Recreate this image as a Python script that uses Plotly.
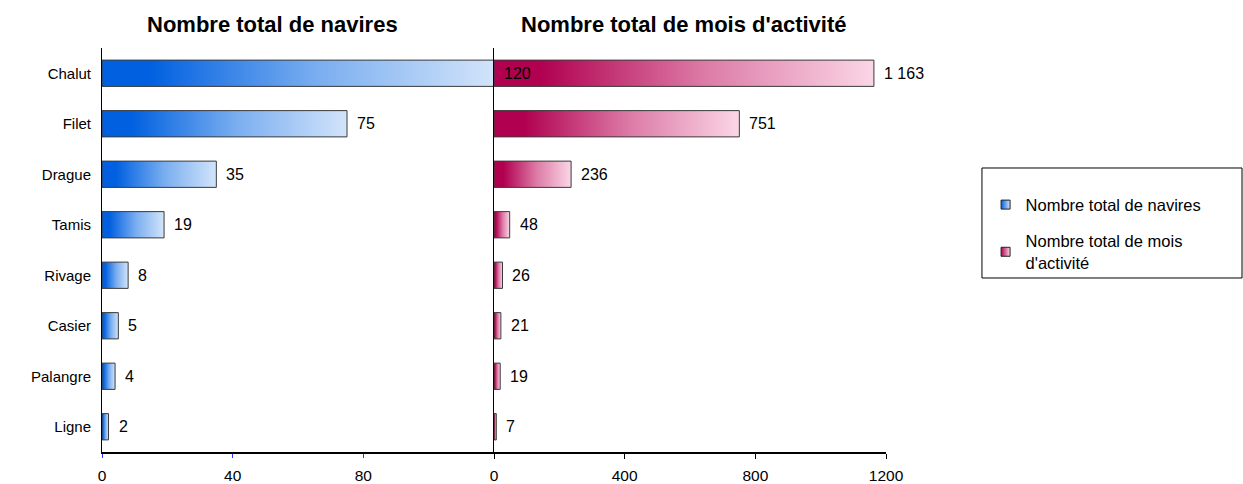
import plotly.graph_objects as go

categories = ["Chalut", "Filet", "Drague", "Tamis", "Rivage", "Casier", "Palangre", "Ligne"]
navires = [120, 75, 35, 19, 8, 5, 4, 2]
mois = [1163, 751, 236, 48, 26, 21, 19, 7]
title_navires = "Nombre total de navires"
title_mois = "Nombre total de mois d'activité"
ticks_navires = [0, 40, 80]
ticks_mois = [0, 400, 800, 1200]

BLUE_DARK, BLUE_MID, BLUE_LIGHT = "#0060E0", "#7AAEF0", "#D2E4FA"
PINK_DARK, PINK_MID, PINK_LIGHT = "#B0004F", "#DC7AA6", "#FBD6E6"
FONT = "Liberation Sans, Arial, sans-serif"
HALF = 0.26

fig = go.Figure()

def add_bars(values, xa, ya, dark, mid, light, name):
    for i, v in enumerate(values):
        fig.add_trace(go.Scatter(
            x=[0, v, v, 0, 0], y=[i - HALF, i - HALF, i + HALF, i + HALF, i - HALF],
            xaxis=xa, yaxis=ya, mode="lines", fill="toself",
            fillgradient=dict(type="horizontal",
                              colorscale=[[0, dark], [0.12, dark], [0.55, mid], [1, light]]),
            line=dict(color="#3a3a3a", width=1),
            hoverinfo="skip", showlegend=False))
    # legend entry
    fig.add_trace(go.Scatter(
        x=[None], y=[None], xaxis=xa, yaxis=ya, mode="markers", name=name,
        legendgroup=name,
        marker=dict(symbol="square", size=9, color=dark,
                    gradient=dict(type="horizontal", color=light),
                    line=dict(color="#222", width=1))))

add_bars(navires, "x", "y", BLUE_DARK, BLUE_MID, BLUE_LIGHT, title_navires)
add_bars(mois, "x2", "y2", PINK_DARK, PINK_MID, PINK_LIGHT, "Nombre total de mois<br>d'activité")

def fmt(v):
    return f"{v:,}".replace(",", " ")

annotations = []
for i, v in enumerate(navires):
    annotations.append(dict(x=v, y=i, xref="x", yref="y", text=fmt(v), showarrow=False,
                            xanchor="left", xshift=8, font=dict(size=16, color="black", family=FONT)))
for i, v in enumerate(mois):
    annotations.append(dict(x=v, y=i, xref="x2", yref="y2", text=fmt(v), showarrow=False,
                            xanchor="left", xshift=8, font=dict(size=16, color="black", family=FONT)))
annotations.append(dict(x=0.217, y=1.057, xref="paper", yref="paper", text="<b>" + title_navires + "</b>",
                        showarrow=False, xanchor="center", yanchor="middle",
                        font=dict(size=22, color="black", family=FONT)))
annotations.append(dict(x=0.742, y=1.057, xref="paper", yref="paper", text="<b>" + title_mois + "</b>",
                        showarrow=False, xanchor="center", yanchor="middle",
                        font=dict(size=22, color="black", family=FONT)))

ymin, ymax = len(categories) - 0.5, -0.5
fig.update_layout(
    width=1243, height=484,
    margin=dict(l=102, r=357, t=48, b=32, autoexpand=False),
    paper_bgcolor="white", plot_bgcolor="white",
    font=dict(family=FONT, size=16, color="black"),
    annotations=annotations,
    xaxis=dict(domain=[0, 0.5], range=[0, 120], tickvals=ticks_navires, ticks="outside",
               ticklen=4, tickcolor="#3030ff", showline=True, linecolor="black", linewidth=2,
               showgrid=False, zeroline=False, ticklabelstandoff=4, automargin=False,
               tickfont=dict(size=15.5)),
    xaxis2=dict(domain=[0.5, 1], range=[0, 1200], tickvals=ticks_mois, ticks="outside",
                ticklen=5, tickcolor="black", showline=True, linecolor="black", linewidth=2,
                showgrid=False, zeroline=False, ticklabelstandoff=3, anchor="y2", automargin=False,
                tickfont=dict(size=15.5)),
    yaxis=dict(range=[ymin, ymax], tickvals=list(range(len(categories))), ticktext=categories,
               showline=True, linecolor="black", linewidth=1, showgrid=False, zeroline=False,
               ticks="", ticklabelstandoff=7, automargin=False, tickfont=dict(size=15)),
    yaxis2=dict(range=[ymin, ymax], anchor="x2", showticklabels=False, showline=True,
                linecolor="black", linewidth=1, showgrid=False, zeroline=False, ticks="",
                automargin=False),
    legend=dict(x=1.127, y=0.655, xanchor="left", yanchor="top", xref="paper", yref="paper",
                bgcolor="rgba(0,0,0,0)", borderwidth=0, tracegroupgap=12,
                font=dict(size=16.5, family=FONT), valign="middle"),
    shapes=[dict(type="rect", xref="paper", yref="paper", x0=1.1224, x1=1.4541, y0=0.4307, y1=0.703,
                 line=dict(color="black", width=1), fillcolor="rgba(0,0,0,0)", layer="below")],
)

fig.write_html("out.html", config={"displayModeBar": False},
               post_script="document.body.style.margin='0';document.body.style.overflow='hidden';")
